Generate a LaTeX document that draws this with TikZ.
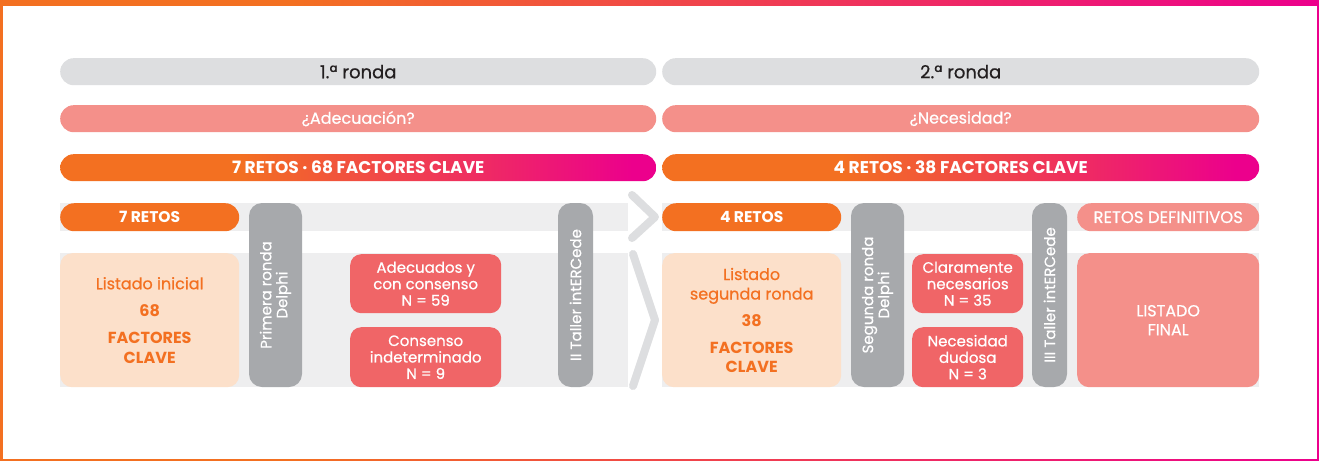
\documentclass[tikz,border=0pt]{standalone}
\usepackage{fontspec}
\setmainfont{Poppins}[UprightFeatures={FakeBold=0.6}]
\definecolor{rorange}{RGB}{243,112,33}
\definecolor{rmag}{RGB}{236,0,140}
\definecolor{peach}{RGB}{252,224,202}
\definecolor{salmon}{RGB}{244,144,138}
\definecolor{coral}{RGB}{240,101,103}
\definecolor{pillgray}{RGB}{167,169,172}
\definecolor{bargray}{RGB}{221,222,224}
\definecolor{bandgray}{RGB}{238,238,239}
\definecolor{ink}{RGB}{35,31,32}
\pgfdeclarehorizontalshading{retos}{100bp}{color(0bp)=(rorange); color(40bp)=(rorange); color(73bp)=(rmag); color(100bp)=(rmag)}
\pgfdeclarehorizontalshading{frame}{100bp}{color(0bp)=(rorange); color(36bp)=(rorange); color(75bp)=(rmag); color(100bp)=(rmag)}
\begin{document}
\begin{tikzpicture}[x=1pt,y=-1pt,
every node/.style={font=\fontsize{16}{19}\selectfont,inner sep=0pt,align=center},
bar/.style={%
anchor=north west,
rounded corners=13.5pt,
minimum height=27pt
},
head/.style={%
bar,
fill=bargray,
text=ink,
font=\fontsize{18}{20}\selectfont
},
ask/.style={%
bar,
fill=salmon,
text=white,
font=\fontsize{16}{19}\selectfont
},
total/.style={%
bar,
shade,
shading=retos,
text=white,
font=\bfseries\fontsize{17}{20}\selectfont
},
tag/.style={%
bar,
minimum height=28pt,
rounded corners=14pt,
text=white
},
stage/.style={%
fill=pillgray,
text=white,
rotate=90,
rounded corners=13pt,
minimum width=184pt,
font=\fontsize{15}{16}\selectfont
},
list/.style={%
anchor=north west,
rounded corners=12pt,
minimum width=179pt,
minimum height=134pt,
text=rorange
},
res/.style={%
anchor=north west,
fill=coral,
text=white,
rounded corners=11pt,
minimum width=151pt,
font=\fontsize{15}{16.5}\selectfont
},
chev/.style={%
draw=bargray,
line width=8pt,
line cap=round,
line join=round
}]
\useasboundingbox (0,0) rectangle (1319,461);
% frame
\shade[shading=frame] (0,0) rectangle (1319,460);
\fill[white] (2.5,5.5) rectangle (1316.5,458.5);
% rows on top
\node[head,minimum width=596pt](ronda1)at(60,58){1.ª ronda};
\node[head,minimum width=597pt](ronda2)at(662,58){2.ª ronda};
\node[ask,minimum width=596pt](adec)at(60,105){¿Adecuación?};
\node[ask,minimum width=597pt](nec)at(662,105){¿Necesidad?};
\node[total,minimum width=596pt](tot1)at(60,154){7 RETOS · 68 FACTORES CLAVE};
\node[total,minimum width=597pt](tot2)at(662,154){4 RETOS · 38 FACTORES CLAVE};
% grey bands
\fill[bandgray] (60,203) rectangle (628,231);
\fill[bandgray] (60,253) rectangle (628,387);
\fill[bandgray] (662,203) rectangle (1259,231);
\fill[bandgray] (662,253) rectangle (1259,387);
\draw[chev] (632,195) -- (655,217) -- (632,238);
\draw[chev] (633,254) -- (655,320) -- (633,386);
% first round
\node[tag,fill=rorange,font=\bfseries\fontsize{15.5}{18}\selectfont,minimum width=179pt](retos7)at(60,203){7 RETOS};
\node[list,fill=peach,font=\fontsize{16}{20}\selectfont](lista1)at(60,253){Listado inicial\\[7pt]\textbf{68}\\[7pt]\textbf{FACTORES}\\\textbf{CLAVE}};
\node[stage,minimum height=53pt](delphi1)at(275.5,295){Primera ronda\\Delphi};
\node[res,minimum height=59pt](adecuados)at(350,254){Adecuados y\\con consenso\\N = 59};
\node[res,minimum height=60pt](indet)at(350,327){Consenso\\indeterminado\\N = 9};
\node[stage,minimum height=35pt](taller2)at(575.5,295){II Taller intERCede};
% second round
\node[tag,fill=rorange,font=\bfseries\fontsize{15.5}{18}\selectfont,minimum width=179pt](retos4)at(662,203){4 RETOS};
\node[list,fill=peach,font=\fontsize{16}{19.5}\selectfont](lista2)at(662,253){Listado\\segunda ronda\\[7.5pt]\textbf{38}\\[7pt]\textbf{FACTORES}\\\textbf{CLAVE}};
\node[stage,minimum height=53pt](delphi2)at(877.5,295){Segunda ronda\\Delphi};
\node[res,minimum width=111pt,minimum height=59pt](claros)at(912,254){Claramente\\necesarios\\N = 35};
\node[res,minimum width=111pt,minimum height=60pt](dudosa)at(912,327){Necesidad\\dudosa\\N = 3};
\node[stage,minimum height=35pt](taller3)at(1049.5,295){III Taller intERCede};
\node[tag,fill=salmon,font=\fontsize{16.5}{19}\selectfont,minimum width=182pt](defin)at(1077,203){RETOS DEFINITIVOS};
\node[list,fill=salmon,text=white,minimum width=182pt](final)at(1077,253){LISTADO\\FINAL};
\end{tikzpicture}
\end{document}
